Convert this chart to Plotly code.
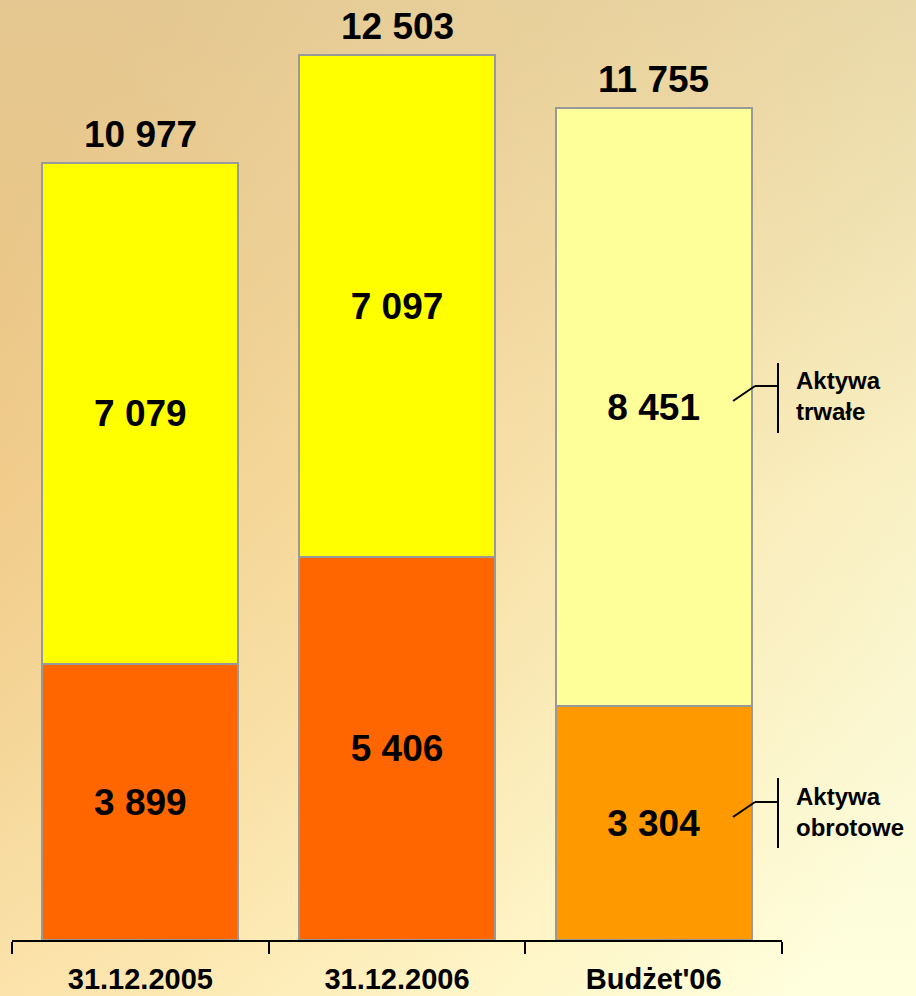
import base64
import plotly.graph_objects as go

categories = ["31.12.2005", "31.12.2006", "Budżet'06"]
obrotowe = [3899, 5406, 3304]
trwale = [7079, 7097, 8451]
totals = [10977, 12503, 11755]
obrotowe_colors = ["#FF6600", "#FF6600", "#FF9900"]
trwale_colors = ["#FFFF00", "#FFFF00", "#FFFF99"]

def fmt(v):
    return f"{v:,}".replace(",", " ")

FONT = "Liberation Sans, Arial, sans-serif"

fig = go.Figure()
fig.add_trace(go.Bar(
    x=categories, y=obrotowe, name="Aktywa obrotowe",
    marker=dict(color=obrotowe_colors, line=dict(color="#999999", width=2)),
    text=[f"<b>{fmt(v)}</b>" for v in obrotowe], textposition="inside",
    insidetextanchor="middle", textangle=0,
    textfont=dict(size=37, color="black", family=FONT),
    width=0.763, hoverinfo="skip",
))
fig.add_trace(go.Bar(
    x=categories, y=trwale, name="Aktywa trwałe",
    marker=dict(color=trwale_colors, line=dict(color="#999999", width=2)),
    text=[f"<b>{fmt(v)}</b>" for v in trwale], textposition="inside",
    insidetextanchor="middle", textangle=0,
    textfont=dict(size=37, color="black", family=FONT),
    width=0.763, hoverinfo="skip",
))

annotations = []
for c, t in zip(categories, totals):
    annotations.append(dict(x=c, y=t, xref="x", yref="y", text=f"<b>{fmt(t)}</b>",
                            showarrow=False, yanchor="bottom", yshift=6,
                            font=dict(size=37, color="black", family=FONT)))

# legend-like callouts (plot area: left 12px, width 770px, top 0, height 940px)
def px(x):
    return (x - 12) / 770.0

def py(y):
    return (940 - y) / 940.0

shapes = []
for (ydiag, yh, ytop, ybot) in [(401, 386, 363, 433), (817, 802, 778, 848)]:
    shapes.append(dict(type="line", xref="paper", yref="paper", x0=px(733), y0=py(ydiag),
                       x1=px(755), y1=py(yh), line=dict(color="black", width=2)))
    shapes.append(dict(type="line", xref="paper", yref="paper", x0=px(755), y0=py(yh),
                       x1=px(778), y1=py(yh), line=dict(color="black", width=2)))
    shapes.append(dict(type="line", xref="paper", yref="paper", x0=px(778), y0=py(ytop),
                       x1=px(778), y1=py(ybot), line=dict(color="black", width=2)))

annotations.append(dict(xref="paper", yref="paper", x=px(794), y=py(396), xanchor="left",
                        yanchor="middle", align="left", showarrow=False,
                        text="<b>Aktywa<br>trwałe</b>",
                        font=dict(size=24, color="black", family=FONT)))
annotations.append(dict(xref="paper", yref="paper", x=px(794), y=py(812), xanchor="left",
                        yanchor="middle", align="left", showarrow=False,
                        text="<b>Aktywa<br>obrotowe</b>",
                        font=dict(size=24, color="black", family=FONT)))

svg = """<svg xmlns='http://www.w3.org/2000/svg' width='916' height='996' preserveAspectRatio='none'>
<defs>
<linearGradient id='h' x1='0' y1='0.2' x2='1' y2='0.8'>
<stop offset='0' stop-color='#F2C57C'/>
<stop offset='0.45' stop-color='#FCDFA0'/>
<stop offset='0.75' stop-color='#FFF3C0'/>
<stop offset='1' stop-color='#FFFFDC'/>
</linearGradient>
<linearGradient id='v' x1='0' y1='0' x2='0' y2='1'>
<stop offset='0' stop-color='#D9C9A0' stop-opacity='0.55'/>
<stop offset='0.5' stop-color='#D9C9A0' stop-opacity='0.15'/>
<stop offset='1' stop-color='#FFFFE0' stop-opacity='0.25'/>
</linearGradient>
</defs>
<rect width='916' height='996' fill='url(#h)'/>
<rect width='916' height='996' fill='url(#v)'/>
</svg>"""
src = "data:image/svg+xml;base64," + base64.b64encode(svg.encode()).decode()

images = [dict(source=src, xref="paper", yref="paper", x=px(0), y=py(0),
               sizex=916 / 770.0, sizey=996 / 940.0, xanchor="left", yanchor="top",
               sizing="stretch", layer="below")]

fig.update_layout(
    width=916, height=996,
    margin=dict(l=12, r=134, t=0, b=56),
    barmode="stack", bargap=0.237,
    showlegend=False,
    paper_bgcolor="#FBE2A8", plot_bgcolor="rgba(0,0,0,0)",
    annotations=annotations, shapes=shapes, images=images,
    font=dict(family=FONT),
)
fig.update_xaxes(
    type="category", range=[-0.5, 2.5], showline=True, linecolor="black", linewidth=2,
    ticks="outside", tickson="boundaries", ticklen=12, tickwidth=2, tickcolor="black",
    tickfont=dict(size=29, color="black", family=FONT), ticklabelstandoff=12,
    tickvals=categories, ticktext=[f"<b>{c}</b>" for c in categories],
    showgrid=False, zeroline=False,
)
fig.update_yaxes(range=[0, 940 / 0.07078], visible=False, showgrid=False, zeroline=False)

fig.write_html("out.html")
